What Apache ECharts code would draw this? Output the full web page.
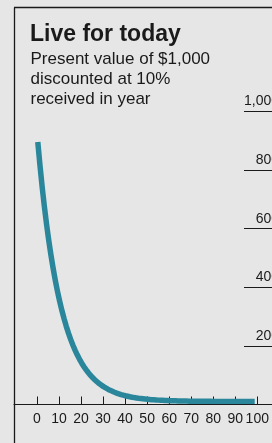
<!DOCTYPE html>
<html>
<head>
<meta charset="utf-8">
<script src="https://cdn.jsdelivr.net/npm/echarts@6/dist/echarts.min.js"></script>
<style>
html,body{margin:0;padding:0;background:#e6e6e6;}
#c{width:272px;height:443px;}
</style>
</head>
<body>
<div id="c"></div>
<script>
const titleText = 'Live for today';
const subtitleText = 'Present value of $1,000\ndiscounted at 10%\nreceived in year';
const xTicks = [0, 10, 20, 30, 40, 50, 60, 70, 80, 90, 100];
const yTicks = [200, 400, 600, 800, 1000];
const years = [1,2,3,4,5,6,7,8,9,10,11,12,13,14,15,16,17,18,19,20,21,22,23,24,25,26,27,28,29,30,31,32,33,34,35,36,37,38,39,40,41,42,43,44,45,46,47,48,49,50,51,52,53,54,55,56,57,58,59,60,61,62,63,64,65,66,67,68,69,70,71,72,73,74,75,76,77,78,79,80,81,82,83,84,85,86,87,88,89,90,91,92,93,94,95,96,97,98,99,100];
const presentValue = [909.1,826.4,751.3,683.0,620.9,564.5,513.2,466.5,424.1,385.5,350.5,318.6,289.7,263.3,239.4,217.6,197.8,179.9,163.5,148.6,135.1,122.8,111.7,101.5,92.3,83.9,76.3,69.3,63.0,57.3,52.1,47.4,43.1,39.1,35.6,32.3,29.4,26.7,24.3,22.1,20.1,18.3,16.6,15.1,13.7,12.5,11.3,10.3,9.4,8.5,7.7,7.0,6.4,5.8,5.3,4.8,4.4,4.0,3.6,3.3,3.0,2.7,2.5,2.2,2.0,1.8,1.7,1.5,1.4,1.3,1.1,1.0,0.9,0.9,0.8,0.7,0.7,0.6,0.5,0.5,0.4,0.4,0.4,0.3,0.3,0.3,0.2,0.2,0.2,0.2,0.2,0.2,0.1,0.1,0.1,0.1,0.1,0.1,0.1,0.1];

const FONT = "'Liberation Sans', Arial, sans-serif";
const INK = '#1a1a1a';
const chart = echarts.init(document.getElementById('c'), null, {renderer: 'canvas'});
const pxPerYear = (257.3 - 37) / 100;
chart.setOption({
  backgroundColor: '#e6e6e6',
  animation: false,
  title: [
    {text: titleText, left: 30, top: 23.5, padding: 0,
     textStyle: {fontFamily: FONT, fontSize: 23, fontWeight: 'bold', color: INK, lineHeight: 23}},
    {text: subtitleText, left: 30.5, top: 49.6, padding: 0,
     textStyle: {fontFamily: FONT, fontSize: 17, fontWeight: 'normal', color: INK, lineHeight: 20}}
  ],
  grid: [
    {left: 14, right: 0, top: 112, bottom: 38.5, outerBoundsMode: 'none', containLabel: false},
    {left: 35.6, width: 219.1, top: 116, bottom: 41.5, outerBoundsMode: 'none', containLabel: false},
    {left: 244, right: 0, top: 111.4, bottom: 38.3, outerBoundsMode: 'none', containLabel: false}
  ],
  xAxis: [
    {gridIndex: 0, type: 'value', min: -(37 - 14) / pxPerYear, max: 100 + (272 - 257.3) / pxPerYear,
     axisLine: {show: true, onZero: false, lineStyle: {color: INK, width: 1}},
     axisTick: {show: true, inside: true, length: 8, customValues: xTicks, lineStyle: {color: INK, width: 1}},
     axisLabel: {show: true, customValues: xTicks, margin: 8, fontFamily: FONT, fontSize: 14, color: INK, hideOverlap: false},
     splitLine: {show: false}},
    {gridIndex: 1, type: 'value', min: 0, max: 100, show: false},
    {gridIndex: 2, type: 'value', min: 0, max: 1, show: false}
  ],
  yAxis: [
    {gridIndex: 0, type: 'value', min: 0, max: 1000, show: false},
    {gridIndex: 1, type: 'value', min: 0, max: 1000, show: false},
    {gridIndex: 2, type: 'value', min: 0, max: 1000, interval: 200, position: 'right',
     axisLine: {show: false}, axisTick: {show: false},
     splitLine: {show: true, lineStyle: {color: INK, width: 1}},
     axisLabel: {show: true, align: 'right', verticalAlign: 'bottom', margin: 7, padding: [0, 0, 3, 0],
       fontFamily: FONT, fontSize: 14, color: INK,
       formatter: v => yTicks.indexOf(v) >= 0 ? v.toLocaleString('en-US') : ''}}
  ],
  series: [{
    type: 'line', xAxisIndex: 1, yAxisIndex: 1,
    data: years.map((y, i) => [y, presentValue[i]]),
    showSymbol: false, smooth: false,
    lineStyle: {color: '#2a879b', width: 5.5, cap: 'butt', join: 'round'}
  }],
  graphic: [
    {type: 'line', shape: {x1: 14.5, y1: 7.5, x2: 14.5, y2: 443}, style: {stroke: INK, lineWidth: 1.3}},
    {type: 'line', shape: {x1: 14, y1: 7.5, x2: 272, y2: 7.5}, style: {stroke: INK, lineWidth: 1.3}}
  ]
});
</script>
</body>
</html>
